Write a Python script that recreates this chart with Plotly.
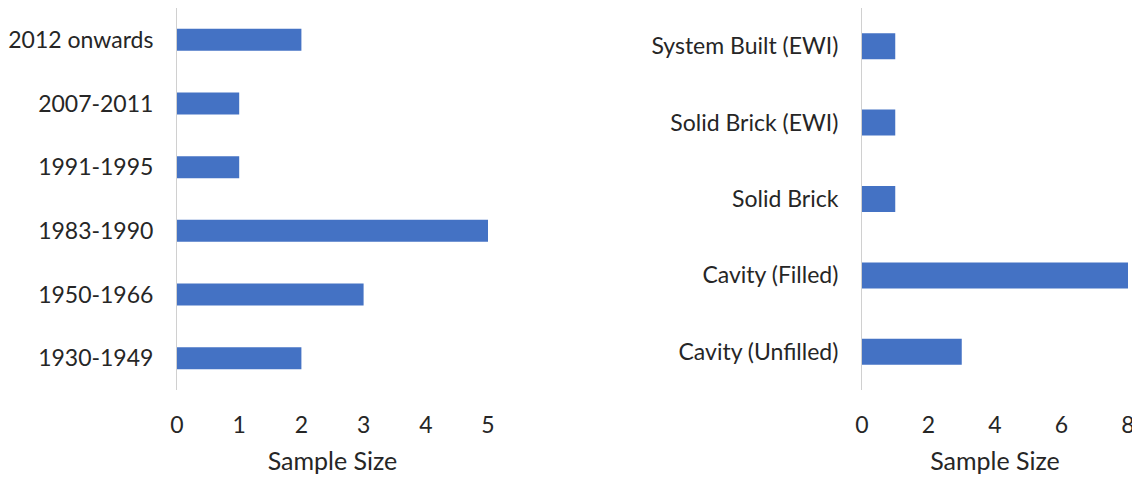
"""Sample size by construction period and wall type - two horizontal bar panels."""

import plotly.graph_objects as go
from plotly.subplots import make_subplots

# Left panel: construction period
period_labels = ['1930-1949', '1950-1966', '1983-1990', '1991-1995', '2007-2011', '2012 onwards']
period_counts = [2, 3, 5, 1, 1, 2]
period_ticks = [0, 1, 2, 3, 4, 5]

# Right panel: wall type
wall_labels = ['Cavity (Unfilled)', 'Cavity (Filled)', 'Solid Brick', 'Solid Brick (EWI)', 'System Built (EWI)']
wall_counts = [3, 8, 1, 1, 1]
wall_ticks = [0, 2, 4, 6, 8]

BAR_COLOR = '#4472C4'
TEXT_COLOR = '#262626'
FONT = 'Lato'
# page body has an 8px margin, so the figure is a bit smaller than the window
W, H = 1132, 471

fig = make_subplots(rows=1, cols=2)

fig.add_trace(go.Bar(
    x=period_counts, y=period_labels, orientation='h',
    marker=dict(color=BAR_COLOR, line=dict(width=0)),
    width=0.345, showlegend=False
), row=1, col=1)

fig.add_trace(go.Bar(
    x=wall_counts, y=wall_labels, orientation='h',
    marker=dict(color=BAR_COLOR, line=dict(width=0)),
    width=0.34, showlegend=False
), row=1, col=2)

tick_font = dict(family=FONT, size=23, color=TEXT_COLOR)
title_font = dict(family=FONT, size=25, color=TEXT_COLOR)

fig.update_xaxes(
    showgrid=False, zeroline=False, showline=False,
    tickfont=tick_font, ticklabelstandoff=19, automargin=False,
    title=dict(text='Sample Size', font=title_font, standoff=15),
)
fig.update_yaxes(
    showgrid=False, zeroline=False, automargin=False,
    showline=True, linecolor='#d0d0d0', linewidth=1,
    tickfont=tick_font, ticklabelstandoff=18,
)

fig.update_layout(
    width=W, height=H,
    margin=dict(l=0, r=0, t=0, b=89, autoexpand=False),
    plot_bgcolor='white', paper_bgcolor='white',
    xaxis=dict(domain=[169 / W, 480 / W], range=[0, 5], tickvals=period_ticks),
    xaxis2=dict(domain=[854 / W, 1120 / W], range=[0, 8], tickvals=wall_ticks),
    yaxis=dict(range=[-0.5, len(period_labels) - 0.5]),
    yaxis2=dict(range=[-0.5, len(wall_labels) - 0.5]),
)

fig.write_html("out.html")
